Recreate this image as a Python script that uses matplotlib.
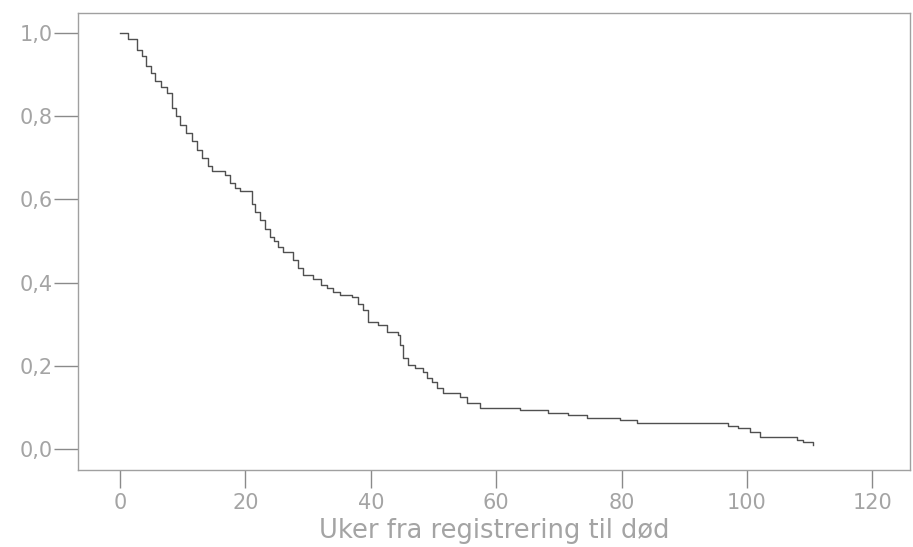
import numpy as np
import matplotlib
matplotlib.use('Agg')
import matplotlib.pyplot as plt

# Kaplan-Meier style survival curve
weeks = [0, 1.2, 2.7, 3.5, 4.2, 5.0, 5.6, 6.5, 7.5, 8.3, 9.0, 9.6, 10.5, 11.5, 12.3, 13.1,
         14.0, 14.7, 16.7, 17.5, 18.3, 19.2, 21.0, 21.5, 22.3, 23.1, 24.0, 24.5, 25.2, 26.0,
         27.6, 28.4, 29.2, 30.8, 32.0, 33.0, 34.0, 35.1, 37.0, 38.0, 38.8, 39.6, 41.1, 42.6,
         44.3, 44.7, 45.1, 45.9, 47.0, 48.3, 49.0, 49.8, 50.6, 51.5, 54.2, 55.3, 57.5, 63.8,
         68.3, 71.5, 74.5, 79.7, 82.5, 97.0, 98.5, 100.5, 102.0, 108.0, 109.0, 110.5]
surv = [1.0, 0.985, 0.96, 0.945, 0.92, 0.905, 0.885, 0.87, 0.855, 0.82, 0.80, 0.78, 0.76, 0.74,
        0.72, 0.70, 0.68, 0.668, 0.659, 0.64, 0.627, 0.62, 0.59, 0.57, 0.55, 0.53, 0.51, 0.50,
        0.485, 0.473, 0.454, 0.435, 0.418, 0.41, 0.395, 0.387, 0.378, 0.37, 0.365, 0.35, 0.334,
        0.305, 0.298, 0.281, 0.274, 0.25, 0.219, 0.202, 0.195, 0.185, 0.172, 0.161, 0.148,
        0.135, 0.125, 0.11, 0.10, 0.094, 0.087, 0.081, 0.075, 0.07, 0.0625, 0.055, 0.05,
        0.041, 0.029, 0.022, 0.017, 0.01]

xticks = [0, 20, 40, 60, 80, 100, 120]
yticks = [0.0, 0.2, 0.4, 0.6, 0.8, 1.0]
ylabels = ['0,0', '0,2', '0,4', '0,6', '0,8', '1,0']
xlabel = 'Uker fra registrering til død'

grey = '#8a8a8a'
txt = '#a4a4a4'
plt.rcParams['font.family'] = ['DejaVu Sans']

fig = plt.figure(figsize=(9.13, 5.47), dpi=100)
ax = fig.add_axes([0.0854, 0.1408, 0.9113, 0.8354])
ax.step(weeks, surv, where='post', color='#505050', lw=1.0)

ax.set_xlim(-6.7, 126)
ax.set_ylim(-0.05, 1.048)
ax.set_xticks(xticks)
ax.set_yticks(yticks)
ax.set_yticklabels(ylabels)
ax.tick_params(axis='y', length=17, width=1, color=grey, labelcolor=txt, labelsize=15, pad=1)
ax.tick_params(axis='x', length=13, width=1, color=grey, labelcolor=txt, labelsize=15, pad=3.5)
for s in ax.spines.values():
    s.set_color('#a0a0a0')
    s.set_linewidth(1.0)
ax.set_xlabel(xlabel, fontsize=18.5, color=txt, labelpad=4)

fig.savefig('out.png', dpi=100)
